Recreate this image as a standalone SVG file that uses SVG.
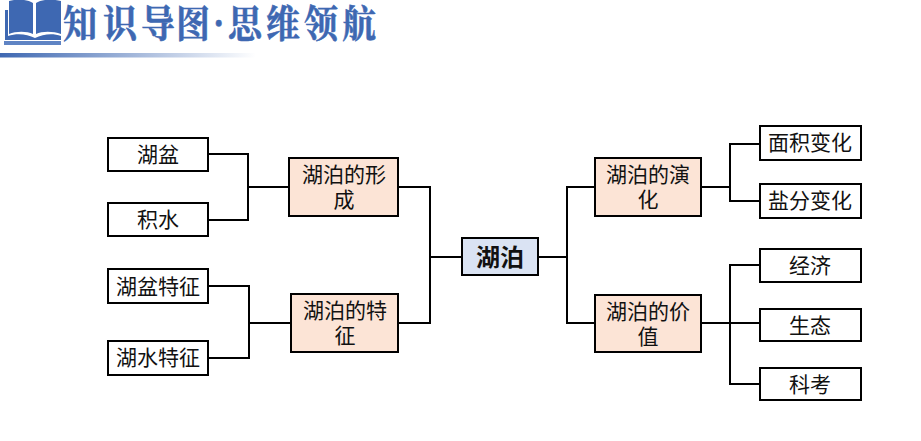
<svg xmlns="http://www.w3.org/2000/svg" width="921" height="441" viewBox="0 0 921 441">
<style>
.t{font-family:"Noto Sans CJK SC","Noto Sans",sans-serif;font-size:21px;text-anchor:middle;fill:#111}
.leaf{fill:#fff;stroke:#000;stroke-width:2}
.mid{fill:#fce4d6;stroke:#000;stroke-width:2}
.root{fill:#dae3f3;stroke:#000;stroke-width:2}
.c{fill:none;stroke:#000;stroke-width:2}
.h{font-family:"Noto Serif CJK SC","Noto Sans CJK SC",sans-serif;font-weight:700;font-size:34px;fill:#3e68b2;stroke:#3e68b2;stroke-width:.5}
</style>
<defs><linearGradient id="g" x1="0" x2="1" y1="0" y2="0"><stop offset="0" stop-color="#3e68b2"/><stop offset="1" stop-color="#3e68b2" stop-opacity="0"/></linearGradient></defs>
<rect width="921" height="441" fill="#fff"/>
<g id="header">
<path d="M9 1C16 -1 27 -1 33 3V34C27 31 16 31 9 34Z" fill="#3e68b2"/>
<path d="M36 3C42 -1 53 -1 61 1V34C53 31 42 31 36 34Z" fill="#3e68b2"/>
<path d="M5 10H8V36C17 33 27 34 35 38C43 34 53 33 61 36V40H35H5Z" fill="#3e68b2"/>
<path d="M4 41H61V45H4Z" fill="#5f84c4"/>
<g transform="translate(0,37) scale(1,1.12)">
<text class="h" x="63 103 141 176" y="0">知识导图</text>
<text class="h" x="213" y="0">·</text>
<text class="h" x="228 266 304 342" y="0">思维领航</text>
</g>
<rect x="0" y="53" width="256" height="4.500" fill="url(#g)"/>
</g>
<g id="connectors">
<path class="c" d="M208 154H248V220H208M248 187H289"/>
<path class="c" d="M208 286H249V358H208M249 323H291"/>
<path class="c" d="M398 187H430V323H398M430 257H462"/>
<path class="c" d="M538 257H567M595 187H567V323H595"/>
<path class="c" d="M701 187H730M760 144H730V201H760"/>
<path class="c" d="M701 323H760M760 265H730V384H760"/>
</g>
<g id="n1"><rect class="leaf" x="108" y="138" width="100" height="33"/><text class="t" x="158" y="162">湖盆</text></g>
<g id="n2"><rect class="leaf" x="108" y="203" width="100" height="33"/><text class="t" x="158" y="227">积水</text></g>
<g id="n3"><rect class="leaf" x="108" y="269" width="100" height="34"/><text class="t" x="158" y="294">湖盆特征</text></g>
<g id="n4"><rect class="leaf" x="108" y="341" width="100" height="34"/><text class="t" x="158" y="365">湖水特征</text></g>
<g id="n5"><rect class="mid" x="289" y="158" width="109" height="58"/><text class="t"><tspan x="344" y="182">湖泊的形</tspan><tspan x="344" y="207">成</tspan></text></g>
<g id="n6"><rect class="mid" x="291" y="294" width="107" height="58"/><text class="t"><tspan x="345" y="318">湖泊的特</tspan><tspan x="345" y="343">征</tspan></text></g>
<g id="root"><rect class="root" x="462" y="238" width="76" height="37"/><text class="t" x="500" y="266" style="font-size:24px;font-weight:700">湖泊</text></g>
<g id="n7"><rect class="mid" x="595" y="158" width="106" height="58"/><text class="t"><tspan x="648" y="182">湖泊的演</tspan><tspan x="648" y="207">化</tspan></text></g>
<g id="n8"><rect class="mid" x="595" y="295" width="106" height="57"/><text class="t"><tspan x="648" y="319">湖泊的价</tspan><tspan x="648" y="344">值</tspan></text></g>
<g id="n9"><rect class="leaf" x="760" y="126" width="101" height="34"/><text class="t" x="810" y="150">面积变化</text></g>
<g id="n10"><rect class="leaf" x="760" y="184" width="101" height="34"/><text class="t" x="810" y="208">盐分变化</text></g>
<g id="n11"><rect class="leaf" x="760" y="249" width="101" height="33"/><text class="t" x="810" y="273">经济</text></g>
<g id="n12"><rect class="leaf" x="760" y="309" width="101" height="32"/><text class="t" x="810" y="333">生态</text></g>
<g id="n13"><rect class="leaf" x="760" y="368" width="101" height="32"/><text class="t" x="810" y="392">科考</text></g>
</svg>
